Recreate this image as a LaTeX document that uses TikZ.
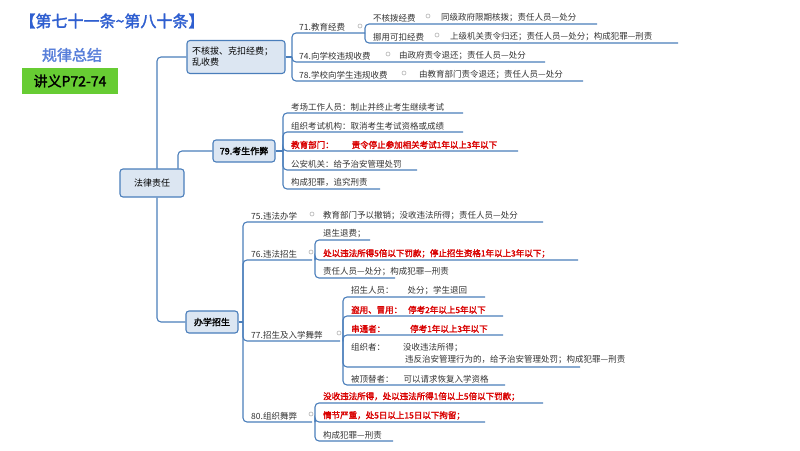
\documentclass[tikz,border=0pt]{standalone}
\usepackage{fontspec}
\setmainfont{Noto Sans CJK SC}[AutoFakeBold=2]
\begin{document}
\begin{tikzpicture}[x=1pt,y=-1pt,
  ln/.style={draw=lnc,line width=1.1pt,rounded corners=4pt},
  box/.style={draw=lnc,fill=boxc,line width=1.1pt,rounded corners=3pt,font=\fontsize{9}{11}\selectfont,align=left,inner sep=3pt},
  tx/.style={anchor=south west,inner sep=1pt,font=\fontsize{8.5}{10}\selectfont,text=black!80},
  rd/.style={tx,text=red!85!black,font=\fontsize{8.5}{10}\selectfont\bfseries},
  dot/.style={circle,draw=gray!60,line width=0.6pt,inner sep=0pt,minimum size=4pt}]
\definecolor{lnc}{HTML}{4A7EBB}
\definecolor{boxc}{HTML}{DCE6F2}
\definecolor{ttl}{HTML}{2F5FD0}
\useasboundingbox (0,0) rectangle (800,450);
\fill[white] (0,0) rectangle (800,450);
\newcommand\br[4]{\draw[ln] (#1,#2) |- (#4,#3);}
% title
\node[font=\fontsize{16}{18}\selectfont\bfseries,text=ttl] (title) at (112,21) {【第七十一条\textasciitilde 第八十条】};
\node[font=\fontsize{15}{17}\selectfont\bfseries,text=ttl!80] (gl) at (72,55) {规律总结};
\node[fill=green!55!lime!75!black!80,minimum width=96,minimum height=26,font=\fontsize{14}{16}\selectfont\bfseries] (jy) at (70,81) {讲义P72-74};
% main boxes
\node[box,minimum width=64,minimum height=28,align=center] (root) at (152,183) {法律责任};
\node[box,minimum width=98,minimum height=33,text width=88] (b1) at (236,57) {不核拔、克扣经费；\\乱收费};
\node[box,minimum width=62,minimum height=22,font=\fontsize{9}{11}\selectfont\bfseries,align=center] (b2) at (244,151) {79.考生作弊};
\node[box,minimum width=52,minimum height=22,font=\fontsize{9}{11}\selectfont\bfseries,align=center] (b3) at (212,322) {办学招生};
\draw[ln] (157,168.5) |- (b1.west);
\draw[ln] (157,197.5) |- (b3.west);
\draw[ln] (178,168.5) |- (b2.west);
% group 1
\draw[ln,rounded corners=0] (b1.east) -- (292,57);
\br{292}{57}{33}{365}\br{292}{57}{62}{545}\br{292}{57}{81}{583}
\node[tx] (t71) at (298,32) {71.教育经费};
\node[dot] at (360,26) {};
\br{365}{33}{24}{597}\br{365}{33}{43}{678}
\node[tx] (t71a) at (372,23) {不核拨经费};
\node[dot] at (428,16) {};
\node[tx] at (440,23) {同级政府限期核拨；责任人员—处分};
\node[tx] (t71b) at (372,42) {挪用可扣经费};
\node[dot] at (437,35) {};
\node[tx] at (449,42) {上级机关责令归还；责任人员—处分；构成犯罪—刑责};
\node[tx] (t74) at (298,61) {74.向学校违规收费};
\node[dot] at (388,54) {};
\node[tx] at (398,61) {由政府责令退还；责任人员—处分};
\node[tx] (t78) at (298,80) {78.学校向学生违规收费};
\node[dot] at (404,73) {};
\node[tx] at (418,80) {由教育部门责令退还；责任人员—处分};
% group 79
\draw[ln,rounded corners=0] (b2.east) -- (283,151);
\br{283}{151}{113}{463}\br{283}{151}{132}{463}\br{283}{151}{151}{518}\br{283}{151}{170}{417}\br{283}{151}{189}{380}
\node[tx] (e1) at (290,112) {考场工作人员：制止并终止考生继续考试};
\node[tx] (e2) at (290,131) {组织考试机构：取消考生考试资格或成绩};
\node[rd] (e3) at (290,150) {教育部门：\hspace{18pt}责令停止参加相关考试1年以上3年以下};
\node[tx] (e4) at (290,169) {公安机关：给予治安管理处罚};
\node[tx] (e5) at (290,188) {构成犯罪，追究刑责};
% group 3
\draw[ln,rounded corners=0] (b3.east) -- (243,322);
\br{243}{322}{222}{543}\br{243}{322}{260}{312}\br{243}{322}{341}{340}\br{243}{322}{422}{312}
\node[tx] (t75) at (250,221) {75.违法办学};
\node[dot] at (312,214) {};
\node[tx] at (322,221) {教育部门予以撤销；没收违法所得；责任人员—处分};
\node[tx] (t76) at (250,259) {76.违法招生};
\node[dot] at (311,252) {};
\br{315}{260}{240}{370}\br{315}{260}{260}{578}\br{315}{260}{278}{395}
\node[tx] at (322,239) {退生退费；};
\node[rd] at (322,259) {处以违法所得5倍以下罚款；停止招生资格1年以上3年以下；};
\node[tx] at (322,277) {责任人员—处分；构成犯罪—刑责};
\node[tx] (t77) at (250,340) {77.招生及入学舞弊};
\node[dot] at (339,333) {};
\br{343}{341}{297}{485}\br{343}{341}{316}{503}\br{343}{341}{335}{503}\br{343}{341}{367}{580}\br{343}{341}{385}{505}
\node[tx] at (350,296) {招生人员：\hspace{14pt}处分；学生退回};
\node[rd] at (350,315) {盗用、冒用：\hspace{6pt}停考2年以上5年以下};
\node[rd] at (350,334) {串通者：\hspace{25pt}停考1年以上3年以下};
\node[tx] at (350,353) {组织者：\hspace{18pt}没收违法所得；};
\node[tx] at (404,365) {违反治安管理行为的，给予治安管理处罚；构成犯罪—刑责};
\node[tx] at (350,384) {被顶替者：\hspace{10pt}可以请求恢复入学资格};
\node[tx] (t80) at (250,421) {80.组织舞弊};
\node[dot] at (311,414) {};
\br{315}{422}{403}{543}\br{315}{422}{422}{485}\br{315}{422}{441}{393}
\node[rd] at (322,402) {没收违法所得，处以违法所得1倍以上5倍以下罚款；};
\node[rd] at (322,421) {情节严重，处5日以上15日以下拘留；};
\node[tx] at (322,440) {构成犯罪—刑责};
\end{tikzpicture}
\end{document}
